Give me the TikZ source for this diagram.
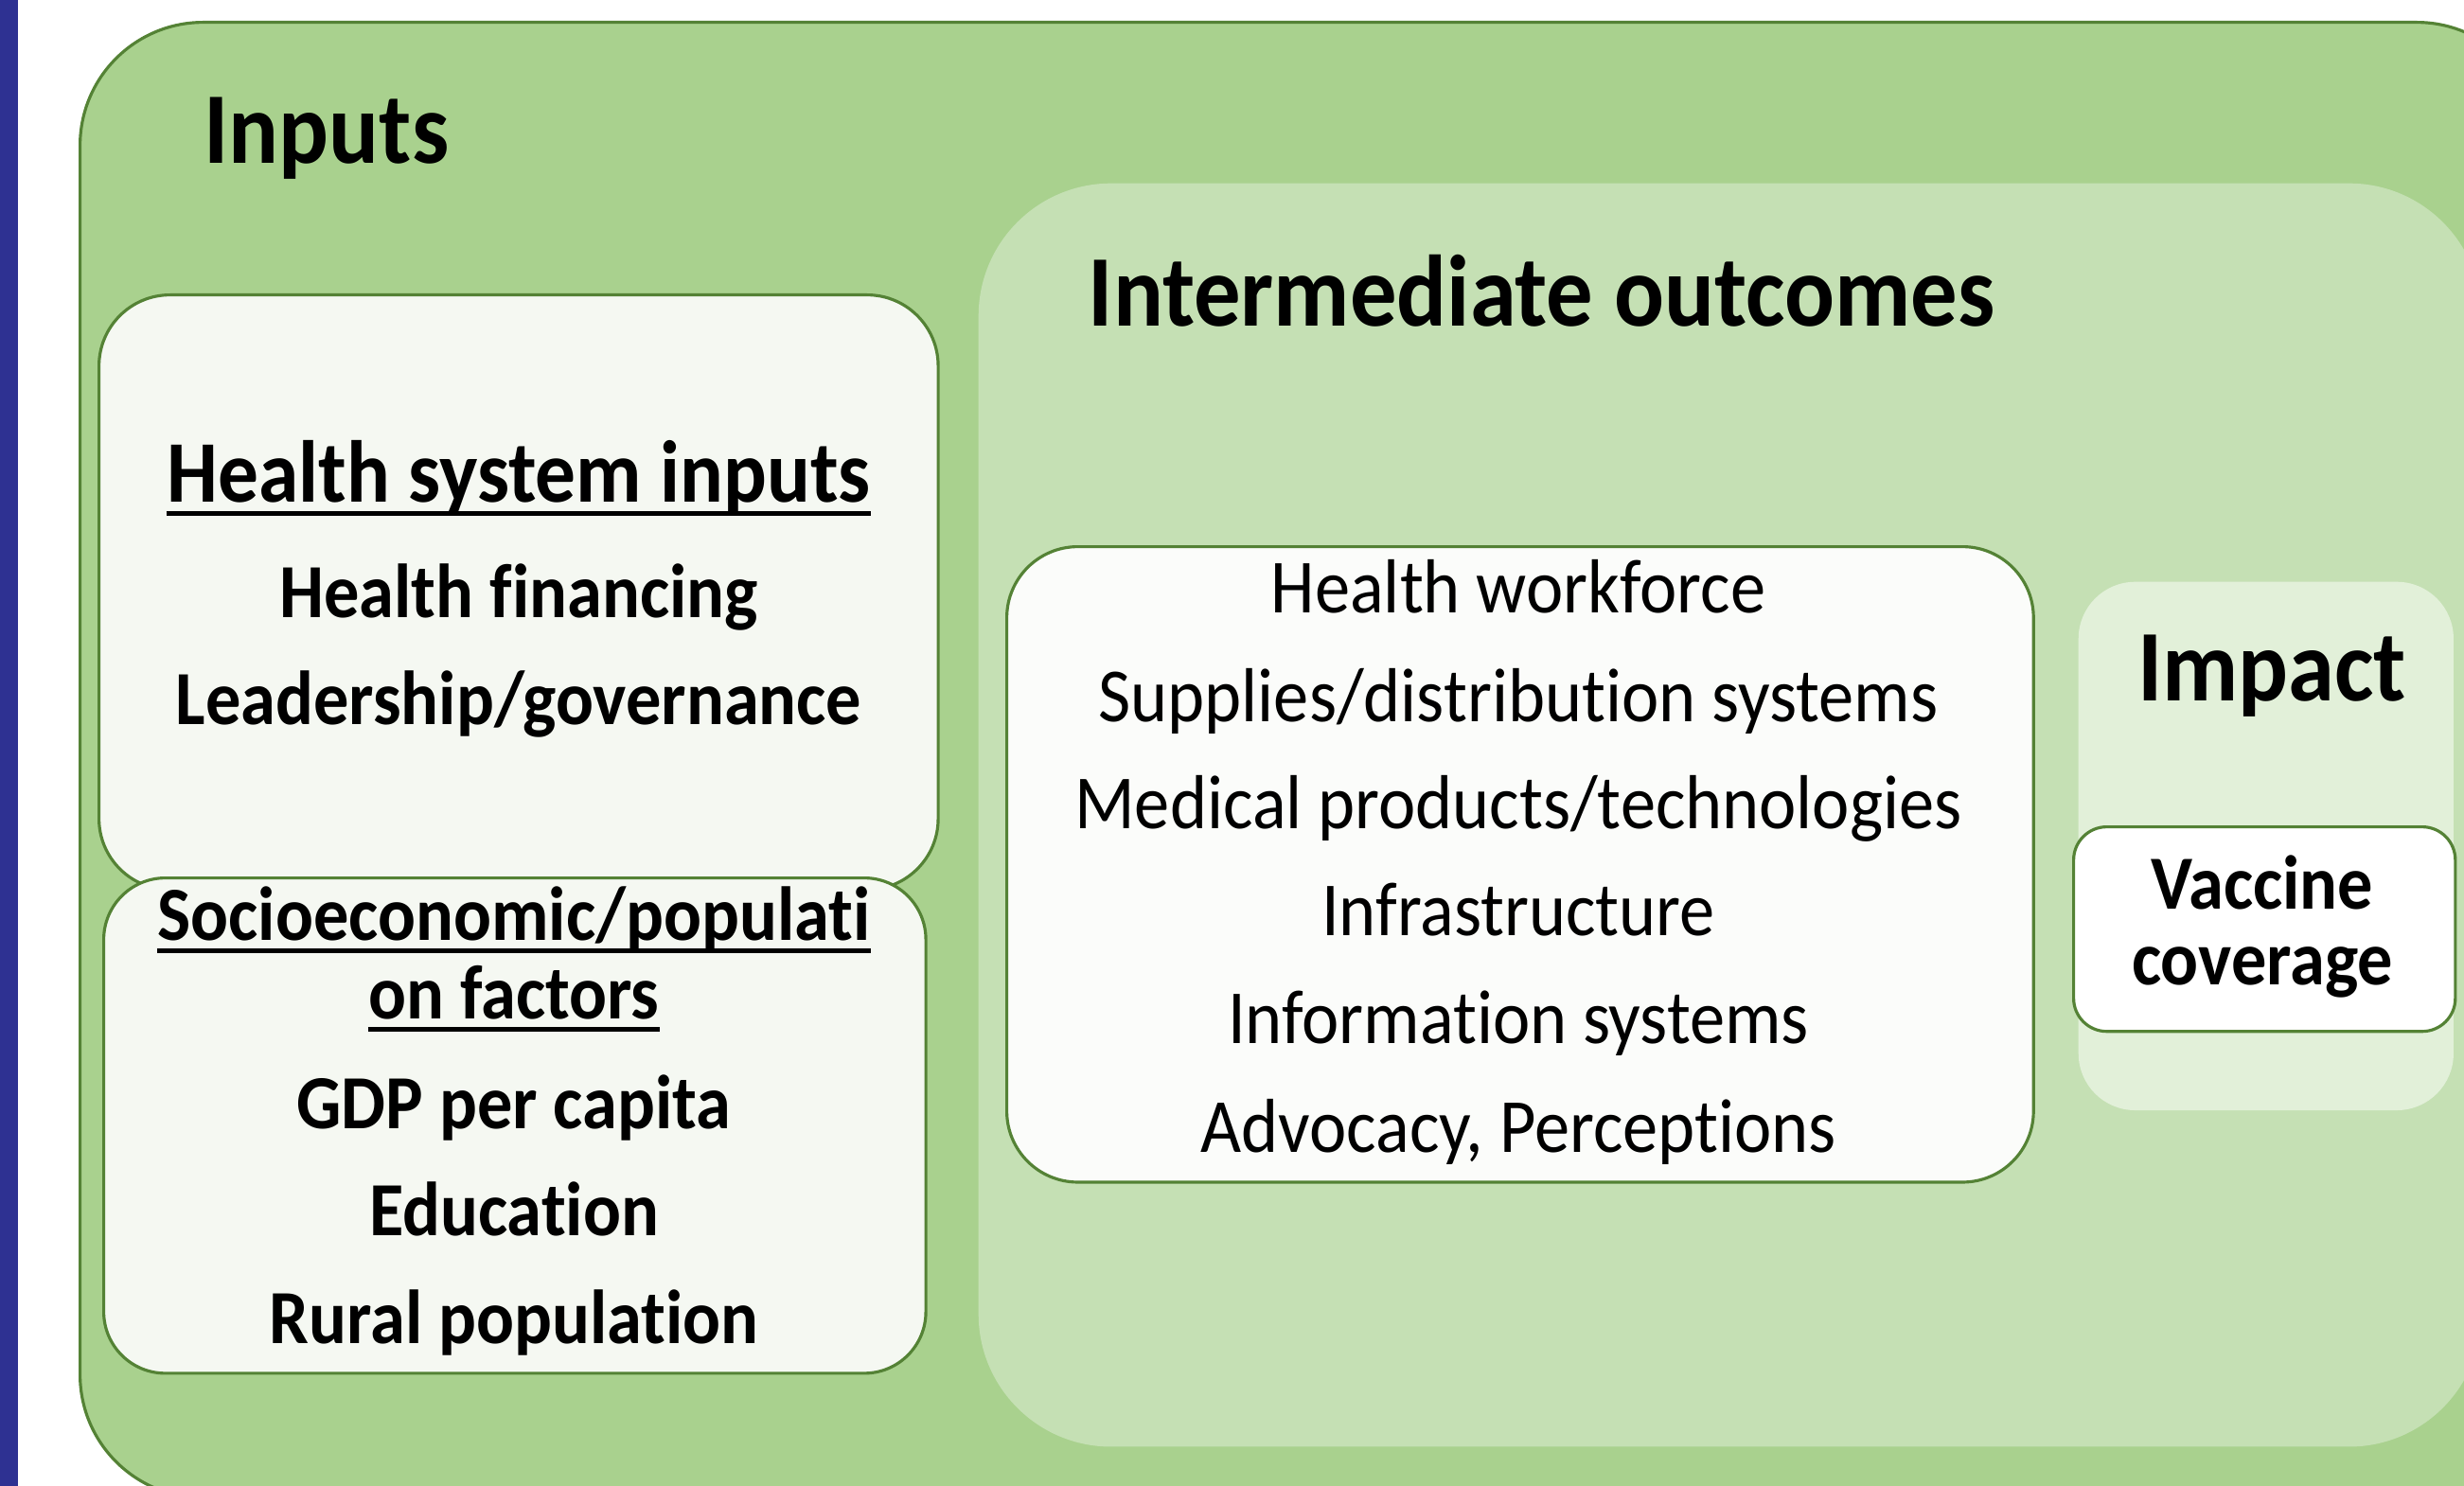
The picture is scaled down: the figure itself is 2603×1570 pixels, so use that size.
\documentclass[tikz,border=0pt]{standalone}
\usepackage{fontspec}
\setmainfont{Carlito}[FakeStretch=0.92, Ligatures=NoCommon]
\usetikzlibrary{backgrounds}

\definecolor{outergreen}{HTML}{A9D18E}
\definecolor{midgreen}{HTML}{C5E0B4}
\definecolor{palegreen}{HTML}{E2F0D9}
\definecolor{edgegreen}{HTML}{548235}
\definecolor{boxwhite}{HTML}{F5F8F2}
\definecolor{barblue}{HTML}{2E3192}

\begin{document}
\begin{tikzpicture}[x=0.01cm, y=-0.01cm,
    panel/.style={draw=edgegreen, line width=0.9pt, anchor=north west, inner sep=0pt},
    band/.style={draw=none, anchor=north west, inner sep=0pt},
    title/.style={font=\fontsize{30.5}{36}\selectfont\bfseries, inner sep=0pt, anchor=base},
    subhead/.style={font=\fontsize{26.4}{31}\selectfont\bfseries, inner sep=0pt, anchor=base},
    boldline/.style={font=\fontsize{23}{28}\selectfont\bfseries, inner sep=0pt, anchor=base},
    plainline/.style={font=\fontsize{23}{28}\selectfont, inner sep=0pt, anchor=base},
    uline/.style={line width=1.4pt}
    ]

    \path[use as bounding box] (0,0) rectangle (2603,1570);
    \clip (0,0) rectangle (2603,1570);

    \fill[barblue] (0,0) rectangle (19,1570);

    % boxes
    \node[panel, fill=outergreen, rounded corners=1.3cm, minimum width=25.97cm, minimum height=15.58cm] (inputs) at (83,22) {};
    \node[band, fill=midgreen, rounded corners=1.4cm, minimum width=15.87cm, minimum height=13.34cm] (middle) at (1033,193) {};
    \node[panel, fill=boxwhite, rounded corners=0.75cm, minimum width=8.86cm, minimum height=6.28cm] (hsbox) at (103,310) {};
    \node[panel, fill=boxwhite, rounded corners=0.65cm, minimum width=8.68cm, minimum height=5.23cm] (sebox) at (108,926) {};
    \node[panel, fill=white!60!boxwhite, rounded corners=0.75cm, minimum width=10.84cm, minimum height=6.71cm] (listbox) at (1062,576) {};
    \node[band, fill=palegreen, rounded corners=0.6cm, minimum width=3.96cm, minimum height=5.58cm] (impact) at (2195,614) {};
    \node[panel, fill=white, rounded corners=0.35cm, minimum width=4.03cm, minimum height=2.16cm] (vcbox) at (2189,872) {};

    % headings
    \node[title] (inputs-t) at (345,173) {Inputs};
    \node[title, anchor=base west] (middle-t) at (1149,345) {Intermediate outcomes};
    \node[title] (impact-t) at (2400,740) {Impact};

    % health system inputs
    \node[subhead] (hs-0) at (548,531) {Health system inputs};
    \node[boldline] (hs-1) at (548,652) {Health financing};
    \node[boldline] (hs-2) at (548,765) {Leadership/governance};
    \draw[uline] ([yshift=-3.4pt]hs-0.base west) -- ([yshift=-3.4pt]hs-0.base east);

    % socioeconomic factors
    \node[boldline] (se-0) at (543,993) {Socioeconomic/populati};
    \node[boldline] (se-1) at (543,1076) {on factors};
    \foreach \y/\t [count=\i from 2] in {1192/GDP per capita, 1305/Education, 1419/Rural population}
        \node[boldline] (se-\i) at (543,\y) {\t};
    \foreach \n in {se-0,se-1}
        \draw[uline] ([yshift=-3.2pt]\n.base west) -- ([yshift=-3.2pt]\n.base east);

    % intermediate outcomes
    \foreach \y/\t [count=\i] in {647/Health workforce, 762/Supplies\slash distribution systems,
        875/Medical products\slash technologies, 988/Infrastructure,
        1102/Information systems, 1217/{Advocacy, Perceptions}}
        \node[plainline] (mid-\i) at (1604,\y) {\t};

    % impact
    \node[boldline] (vc-1) at (2390,960) {Vaccine};
    \node[boldline] (vc-2) at (2390,1040) {coverage};
    %
\end{tikzpicture}
\end{document}
